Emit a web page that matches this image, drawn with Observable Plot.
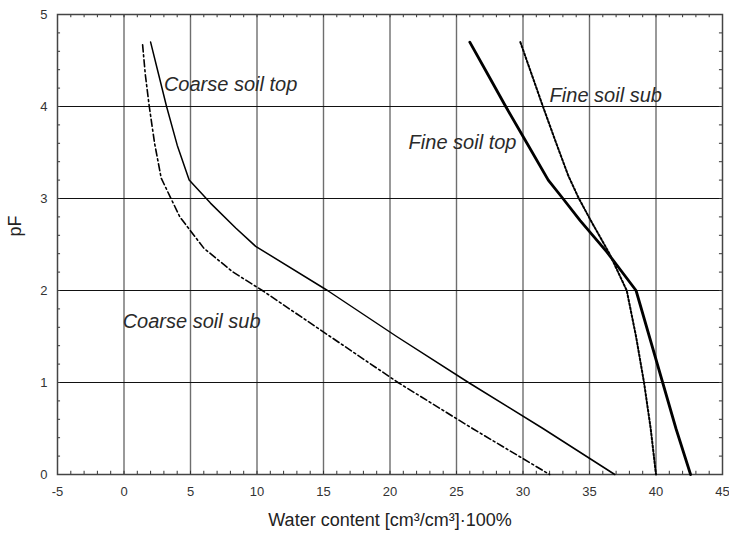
<!DOCTYPE html>
<html>
<head>
<meta charset="utf-8">
<script src="https://cdn.jsdelivr.net/npm/d3@7"></script>
<script src="https://cdn.jsdelivr.net/npm/@observablehq/plot@0.6"></script>
<style>
  html, body { margin: 0; padding: 0; background: #fff; }
  #chart svg { display: block; }
</style>
</head>
<body>
<div id="chart"></div>
<script>
// ---- Data ----
const coarseTopX = [2.0, 2.6, 3.2, 4.0, 4.9, 6.5, 8.4, 9.9, 15.3, 20.5, 25.9, 31.5, 36.9];
const coarseTopY = [4.7, 4.35, 4.0, 3.58, 3.2, 2.95, 2.68, 2.48, 2.0, 1.5, 1.0, 0.5, 0];

const coarseSubX = [1.4, 1.6, 1.9, 2.3, 2.8, 4.2, 6.0, 8.2, 10.4, 15.5, 20.6, 26.2, 32.0];
const coarseSubY = [4.67, 4.35, 4.0, 3.6, 3.22, 2.8, 2.46, 2.2, 2.0, 1.5, 1.0, 0.5, 0];

const fineTopX = [26.0, 27.35, 28.7, 30.3, 31.9, 33.0, 34.3, 36.3, 38.5, 39.5, 40.5, 41.5, 42.6];
const fineTopY = [4.7, 4.35, 4.0, 3.6, 3.2, 3.0, 2.76, 2.42, 2.0, 1.5, 1.0, 0.5, 0];

const fineSubX = [29.8, 30.65, 31.5, 32.5, 33.4, 34.2, 35.1, 36.5, 37.8, 38.5, 39.1, 39.6, 40.0];
const fineSubY = [4.7, 4.35, 4.0, 3.6, 3.25, 3.0, 2.76, 2.4, 2.0, 1.5, 1.0, 0.5, 0];

const seriesNames = ["Coarse soil top", "Coarse soil sub", "Fine soil top", "Fine soil sub"];
const labelX = [3.0, -0.1, 21.4, 32.0];
const labelY = [4.24, 1.66, 3.61, 4.12];

const xTicks = [-5, 0, 5, 10, 15, 20, 25, 30, 35, 40, 45];
const yTicks = [0, 1, 2, 3, 4, 5];
const xLabel = "Water content [cm³/cm³]·100%";
const yLabel = "pF";

// ---- Build tables ----
const toRows = (xs, ys) => xs.map((x, i) => ({x, y: ys[i]}));
const coarseTop = toRows(coarseTopX, coarseTopY);
const coarseSub = toRows(coarseSubX, coarseSubY);
const fineTop = toRows(fineTopX, fineTopY);
const fineSub = toRows(fineSubX, fineSubY);
const labels = seriesNames.map((name, i) => ({name, x: labelX[i], y: labelY[i]}));

const xMinor = d3.range(-5, 46, 1);
const yMinor = d3.range(0, 5.001, 0.2).map(v => +v.toFixed(1));
const xGrid = xTicks.slice(1, -1);
const yGrid = yTicks.slice(1, -1);

const font = "'Liberation Sans', Arial, Helvetica, sans-serif";

const chart = Plot.plot({
  width: 729,
  height: 538,
  marginTop: 14,
  marginLeft: 57,
  marginRight: 7,
  marginBottom: 64,
  style: {fontFamily: font, background: "#fff", color: "#222"},
  x: {domain: [-5, 45]},
  y: {domain: [0, 5]},
  marks: [
    Plot.ruleX(xGrid, {x: d => d, stroke: "#6e6e6e", strokeWidth: 1.4}),
    Plot.ruleY(yGrid, {y: d => d, stroke: "#111", strokeWidth: 1}),
    // minor ticks pointing inward
    Plot.ruleX(xMinor, {x: d => d, y1: 0, y2: 0.035, stroke: "#333", strokeWidth: 1}),
    Plot.ruleX(xMinor, {x: d => d, y1: 5, y2: 4.965, stroke: "#333", strokeWidth: 1}),
    Plot.ruleY(yMinor, {y: d => d, x1: -5, x2: -4.77, stroke: "#333", strokeWidth: 1}),
    Plot.ruleY(yMinor, {y: d => d, x1: 45, x2: 44.77, stroke: "#333", strokeWidth: 1}),
    Plot.frame({stroke: "#444", strokeWidth: 1.5}),
    Plot.axisX({ticks: xTicks, tickSize: 0, tickPadding: 12, fontSize: 13, color: "#333", label: null, tickFormat: d => String(d)}),
    Plot.axisY({ticks: yTicks, tickSize: 0, tickPadding: 10, fontSize: 13, color: "#333", label: null, tickFormat: d => String(d)}),
    // curves
    Plot.line(coarseTop, {x: "x", y: "y", stroke: "#000", strokeWidth: 1.5}),
    Plot.line(coarseSub, {x: "x", y: "y", stroke: "#000", strokeWidth: 1.6, strokeDasharray: "7,3,2,3"}),
    Plot.line(fineTop, {x: "x", y: "y", stroke: "#000", strokeWidth: 2.8}),
    Plot.line(fineSub, {x: "x", y: "y", stroke: "#888", strokeWidth: 1}),
    Plot.line(fineSub, {x: "x", y: "y", stroke: "#000", strokeWidth: 2, strokeDasharray: "2,2"}),
    // series labels
    Plot.text(labels, {x: "x", y: "y", text: "name", textAnchor: "start", fontSize: 20, fontStyle: "italic", fill: "#2a2a2a"}),
    // axis titles
    Plot.text([xLabel], {text: d => d, frameAnchor: "bottom", dy: 51, fontSize: 18, fill: "#222"}),
    Plot.text([yLabel], {text: d => d, frameAnchor: "left", dx: -42, dy: -8, rotate: -90, fontSize: 18, fill: "#222"})
  ]
});

document.getElementById("chart").append(chart);
</script>
</body>
</html>
